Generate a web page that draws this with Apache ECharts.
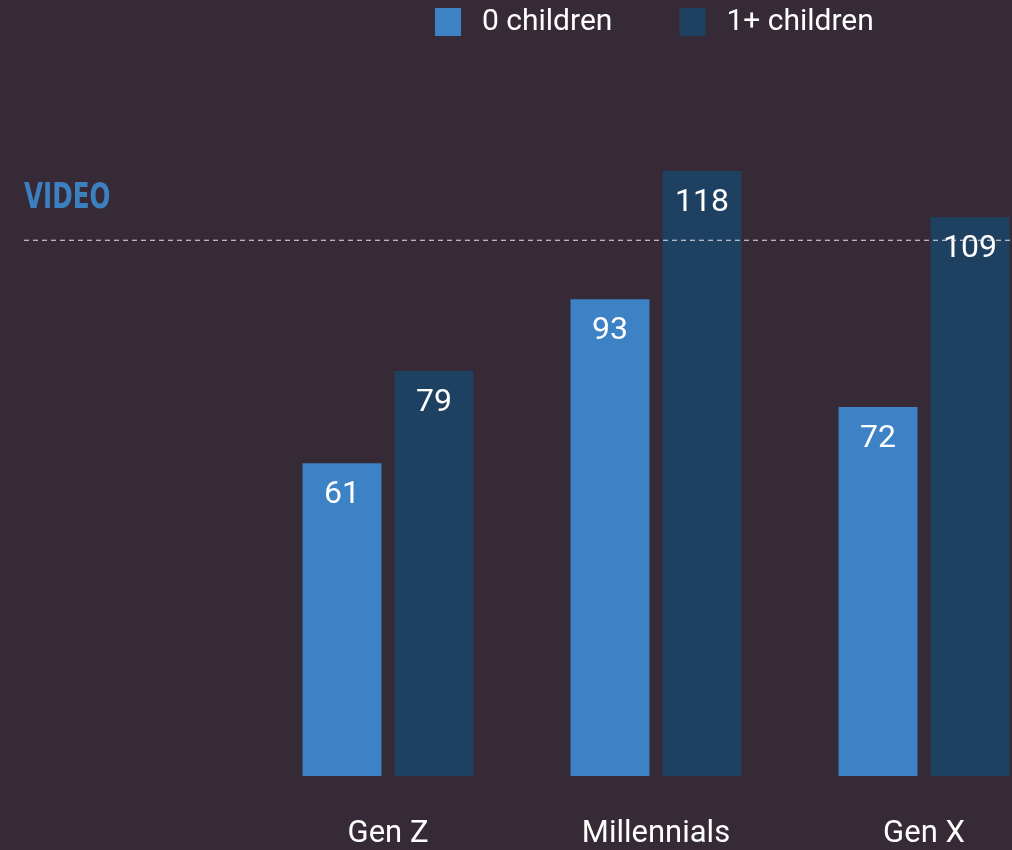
<!DOCTYPE html>
<html>
<head>
<meta charset="utf-8">
<style>
  html, body { margin: 0; padding: 0; background: #352a35; }
  #chart { width: 1012px; height: 850px; }
</style>
<script src="https://cdn.jsdelivr.net/npm/echarts@6/dist/echarts.min.js"></script>
</head>
<body>
<div id="chart"></div>
<script>
// Generations on the category axis
const categories = ['Gen Z', 'Millennials', 'Gen X'];
// Index values per household group
const noChildren = [61, 93, 72];
const withChildren = [79, 118, 109];
// Reference level drawn as a dashed line across the plot
const referenceLevel = [104.5];
const seriesNames = ['0 children', '1+ children'];

const chart = echarts.init(document.getElementById('chart'));

const yMax = 150;
const gridTop = 7;
const gridBottom = 74;

const barLabel = {
  show: true,
  position: 'insideTop',
  distance: 16,
  color: '#ffffff',
  fontFamily: 'Roboto',
  fontSize: 32
};

chart.setOption({
  backgroundColor: '#352a35',
  animation: false,
  graphic: [
    {
      type: 'text',
      left: 24,
      top: 181,
      scaleX: 0.76,
      style: {
        text: 'VIDEO',
        fill: '#3d80c2',
        font: 'bold 36px "DejaVu Sans Condensed"'
      }
    }
  ],
  legend: {
    left: 435,
    top: 7,
    padding: 0,
    itemWidth: 26,
    itemHeight: 28,
    itemGap: 67,
    icon: 'rect',
    data: seriesNames,
    textStyle: {
      color: '#ffffff',
      fontFamily: 'Roboto',
      fontSize: 30,
      padding: [0, 0, 0, 16]
    }
  },
  grid: [
    { left: 254, width: 804, top: gridTop, bottom: gridBottom, outerBoundsMode: 'none' },
    { left: 24, right: 0, top: gridTop, bottom: gridBottom, outerBoundsMode: 'none' }
  ],
  xAxis: [
    {
      type: 'category',
      gridIndex: 0,
      data: categories,
      axisLine: { show: false },
      axisTick: { show: false },
      axisLabel: {
        color: '#ffffff',
        fontFamily: 'Roboto',
        fontSize: 31,
        margin: 43
      }
    },
    {
      type: 'value',
      gridIndex: 1,
      min: 0,
      max: 1,
      show: false
    }
  ],
  yAxis: [
    { type: 'value', gridIndex: 0, min: 0, max: yMax, show: false },
    { type: 'value', gridIndex: 1, min: 0, max: yMax, show: false }
  ],
  series: [
    {
      name: seriesNames[0],
      type: 'bar',
      xAxisIndex: 0,
      yAxisIndex: 0,
      data: noChildren,
      barWidth: 79,
      barGap: '16.5%',
      itemStyle: { color: '#3d82c4' },
      label: barLabel
    },
    {
      name: seriesNames[1],
      type: 'bar',
      xAxisIndex: 0,
      yAxisIndex: 0,
      data: withChildren,
      barWidth: 79,
      barGap: '16.5%',
      itemStyle: { color: '#1f4161' },
      label: barLabel
    },
    {
      name: 'reference',
      type: 'line',
      xAxisIndex: 1,
      yAxisIndex: 1,
      data: [[0, referenceLevel[0]], [1, referenceLevel[0]]],
      symbol: 'none',
      z: 5,
      lineStyle: { color: '#e8e4e8', width: 1, type: [5, 4] }
    }
  ]
});
</script>
</body>
</html>
